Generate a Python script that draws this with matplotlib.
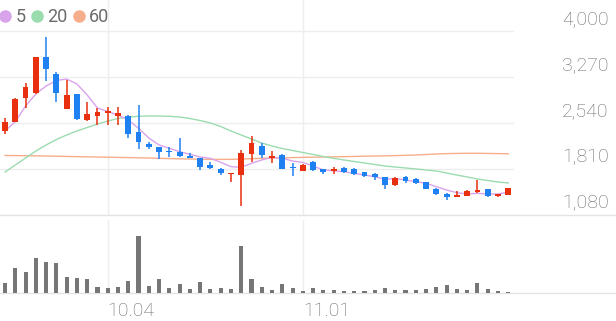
import matplotlib
matplotlib.use("Agg")
import matplotlib.pyplot as plt
from matplotlib.lines import Line2D
from matplotlib.transforms import ScaledTranslation

plt.rcParams['font.family'] = ['Roboto', 'DejaVu Sans']

# ─────────────────────────────────────────────
# Data
# ─────────────────────────────────────────────
opens = [2418, 2565, 2937, 3016, 3587, 3322, 2767, 3000, 2600, 2660,
         2699, 2660, 2660, 2397, 2207, 2159, 2100, 2089, 2021, 1984,
         1878, 1815, 1731, 1719, 2048, 2180, 1993, 2037, 1835, 1788,
         1931, 1810, 1778, 1826, 1820, 1762, 1735, 1683, 1561, 1692,
         1656, 1604, 1497, 1418, 1375, 1391, 1445, 1492, 1391, 1402]
closes = [2565, 2925, 3121, 3587, 3402, 3016, 2989, 2603, 2680, 2724,
          2735, 2699, 2370, 2238, 2159, 2089, 2080, 2021, 1994, 1851,
          1826, 1747, 1756, 2064, 2222, 2037, 2021, 1815, 1826, 1878,
          1799, 1772, 1810, 1772, 1731, 1704, 1683, 1561, 1667, 1629,
          1588, 1502, 1413, 1375, 1402, 1466, 1481, 1386, 1418, 1508]
highs = [2624, 2946, 3175, 3597, 3914, 3349, 3227, 3005, 2878, 2778,
         2803, 2803, 2665, 2830, 2248, 2168, 2168, 2302, 2073, 1993,
         1921, 1835, 1756, 2116, 2343, 2222, 2100, 2048, 1905, 1889,
         1947, 1820, 1851, 1851, 1826, 1772, 1746, 1692, 1683, 1704,
         1667, 1613, 1508, 1429, 1470, 1481, 1640, 1497, 1418, 1514]
lows = [2365, 2556, 2787, 3010, 3216, 2883, 2759, 2592, 2576, 2513,
        2513, 2513, 2302, 2132, 2132, 1973, 2010, 2010, 1984, 1799,
        1810, 1719, 1613, 1232, 1931, 1984, 1915, 1810, 1708, 1783,
        1788, 1731, 1735, 1756, 1719, 1692, 1640, 1497, 1550, 1597,
        1577, 1492, 1402, 1323, 1375, 1386, 1439, 1375, 1365, 1397]
volumes = [106, 250, 216, 350, 316, 300, 166, 150, 140, 66,
           50, 66, 126, 576, 73, 143, 53, 90, 43, 116,
           40, 50, 40, 473, 143, 66, 33, 93, 50, 23,
           50, 36, 33, 23, 23, 23, 33, 56, 36, 30,
           30, 40, 66, 83, 43, 33, 106, 40, 20, 10]
ma5 = [2418, 2565, 2815, 3005, 3132, 3219, 3243, 3164, 2989, 2783,
       2727, 2672, 2592, 2461, 2307, 2196, 2143, 2089, 2048, 2005,
       1984, 1921, 1851, 1842, 1905, 1958, 2000, 1984, 1942, 1918,
       1862, 1799, 1788, 1772, 1746, 1719, 1692, 1651, 1664, 1640,
       1613, 1588, 1534, 1481, 1439, 1418, 1429, 1418, 1418, 1445]
ma20 = [1767, 1878, 1989, 2100, 2196, 2283, 2354, 2418, 2473, 2529,
        2576, 2616, 2640, 2651, 2656, 2656, 2651, 2640, 2616, 2584,
        2545, 2489, 2418, 2354, 2291, 2227, 2180, 2140, 2108, 2077,
        2045, 2013, 1984, 1958, 1934, 1910, 1886, 1862, 1846, 1831,
        1815, 1799, 1783, 1751, 1719, 1688, 1656, 1632, 1608, 1593]
ma60 = [2029, 2027, 2026, 2024, 2021, 2018, 2014, 2011, 2008, 2005,
        2002, 1999, 1996, 1992, 1989, 1984, 1980, 1976, 1973, 1970,
        1968, 1967, 1968, 1973, 1978, 1984, 1989, 1992, 1996, 1999,
        2002, 2005, 2008, 2011, 2014, 2018, 2021, 2024, 2027, 2032,
        2037, 2045, 2053, 2059, 2062, 2064, 2064, 2062, 2059, 2056]

price_ticks = [1080, 1810, 2540, 3270, 4000]
date_pos = [10, 29]
date_labels = ["10.04", "11.01"]
ma_labels = ["5", "20", "60"]

# ─────────────────────────────────────────────
# Styling
# ─────────────────────────────────────────────
UP, DOWN = "#e8300e", "#1f80f2"
MA_COLORS = ["#d9a3ec", "#9bdcaf", "#f6ae8a"]
GRID = "#eeeeee"
TEXT = "#6b6b6b"

W, H = 616, 321
fig = plt.figure(figsize=(W / 100, H / 100), dpi=100)

def px_axes(x0, y0, x1, y1):
    return fig.add_axes([x0 / W, 1 - y1 / H, (x1 - x0) / W, (y1 - y0) / H])

ax = px_axes(0, 0, 514, 215.3)
axv = px_axes(0, 220, 514, 293.3)

idx = list(range(len(opens)))
colors = [UP if c >= o else DOWN for o, c in zip(opens, closes)]

# moving averages
for vals, col in zip([ma60, ma20, ma5], MA_COLORS[::-1]):
    ax.plot(idx, vals, color=col, lw=1.0, zorder=2)

# candles
ax.vlines(idx, lows, highs, colors=colors, lw=1.1, zorder=3)
bottoms = [min(o, c) for o, c in zip(opens, closes)]
heights = [max(abs(c - o), 18) for o, c in zip(opens, closes)]
ax.bar(idx, heights, bottom=bottoms, width=0.57, color=colors, lw=0, zorder=4)

ax.set_xlim(-0.49, 49.56)
ax.set_ylim(1080, 4496.7)
ax.set_yticks(price_ticks)
ax.set_yticklabels([f"{v:,}" for v in price_ticks])
ax.yaxis.tick_right()
ax.tick_params(axis="y", length=0, pad=34.5, labelsize=14, labelcolor=TEXT)
for lab in ax.get_yticklabels():
    lab.set_fontweight("light")
    lab.set_transform(lab.get_transform() + ScaledTranslation(0, 0.145, fig.dpi_scale_trans))
ax.set_xticks(date_pos)
ax.tick_params(axis="x", length=0, labelbottom=False)
ax.grid(True, color=GRID, lw=1)
ax.axhline(1080, xmin=0, xmax=W / 514, color="#e4e4e4", lw=1, clip_on=False)
for s in ax.spines.values():
    s.set_visible(False)

# volume
axv.bar(idx, volumes, width=0.4, color="#767676", lw=0, zorder=3)
axv.set_xlim(-0.49, 49.56)
axv.set_ylim(0, 733)
axv.set_yticks([])
axv.set_xticks(date_pos)
axv.set_xticklabels(date_labels)
axv.tick_params(axis="x", length=0, pad=6, labelsize=14, labelcolor=TEXT)
for lab in axv.get_xticklabels():
    lab.set_horizontalalignment("left")
    lab.set_fontweight("light")
axv.grid(True, axis="x", color=GRID, lw=1)
axv.axhline(0, xmin=0, xmax=W / 514, color="#e4e4e4", lw=1, clip_on=False)
for s in axv.spines.values():
    s.set_visible(False)

# legend
handles = [Line2D([], [], marker="o", ls="", color=c, markersize=8) for c in MA_COLORS]
fig.legend(handles, ma_labels, loc="upper left", bbox_to_anchor=(0.0, 1 - 8 / H),
           ncol=3, frameon=False, handlelength=0.55, handletextpad=0.3,
           columnspacing=0.35, fontsize=13, labelcolor=TEXT,
           borderaxespad=0, borderpad=0)

fig.savefig("out.png", dpi=100)
